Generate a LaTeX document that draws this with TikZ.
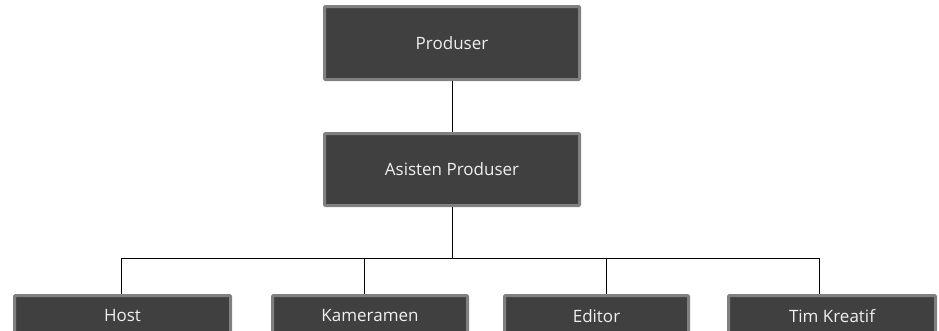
\documentclass[tikz,border=0pt]{standalone}
\usepackage{fontspec}
\setmainfont{Open Sans}
\begin{document}
\begin{tikzpicture}[x=1pt,y=-1pt,
  box/.style={draw=boxborder,line width=3pt,fill=boxfill,rounded corners=1pt,
    text=boxtext,font=\fontsize{17}{20}\selectfont,inner sep=0pt,anchor=center},
  conn/.style={draw=black,line width=1pt}]
\definecolor{boxborder}{HTML}{808080}
\definecolor{boxfill}{HTML}{404040}
\definecolor{boxtext}{HTML}{F0F0F0}
\useasboundingbox (0,0) rectangle (939,330);
\clip (0,0) rectangle (939,330);
\fill[white] (0,0) rectangle (939,330);
\node[box,minimum width=255pt,minimum height=73pt] (prod) at (452,43) {Produser};
\node[box,minimum width=255pt,minimum height=72pt] (asist) at (452,169.5) {Asisten Produser};
\node[box,minimum width=216pt,minimum height=41pt] (host) at (122.5,316) {Host};
\node[box,minimum width=195pt,minimum height=41pt] (kam) at (370,316) {Kameramen};
\node[box,minimum width=184pt,minimum height=41pt] (edit) at (596.5,316) {Editor};
\node[box,minimum width=207pt,minimum height=41pt] (tim) at (832,316) {Tim Kreatif};
\coordinate (bus) at (452,258);
\coordinate (bh) at (121,258);
\coordinate (bk) at (364,258);
\coordinate (be) at (606,258);
\coordinate (bt) at (819,258);
\draw[conn] (prod.south) -- (asist.north);
\draw[conn] (asist.south) -- (bus);
\draw[conn] (bh) -- (bt);
\draw[conn] (bh) -- (bh |- host.north);
\draw[conn] (bk) -- (bk |- kam.north);
\draw[conn] (be) -- (be |- edit.north);
\draw[conn] (bt) -- (bt |- tim.north);
\end{tikzpicture}
\end{document}
